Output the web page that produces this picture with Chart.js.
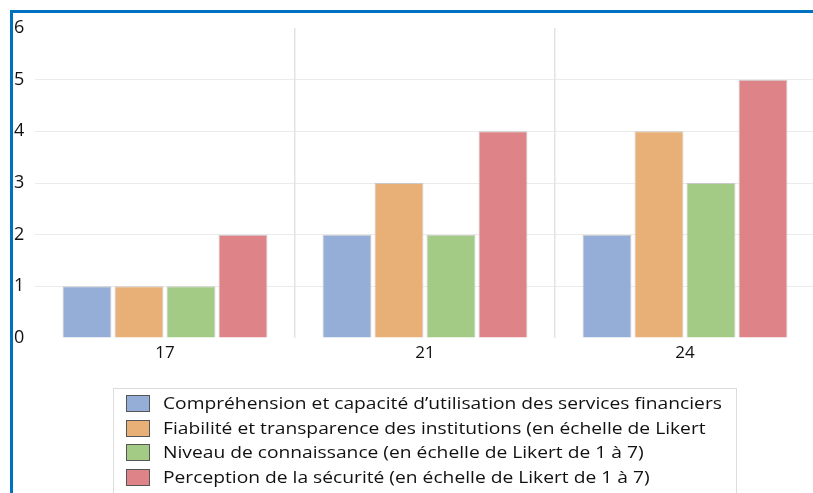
<!DOCTYPE html>
<html>
<head>
<meta charset="utf-8">
<script src="https://cdn.jsdelivr.net/npm/chart.js@4"></script>
<style>
  html, body { margin: 0; padding: 0; background: #fff; overflow: hidden; width: 813px; height: 493px; }
  #frame { position: absolute; left: 10px; top: 10px; width: 820px; height: 500px;
           border-top: 3px solid #0070C0; border-left: 3px solid #0070C0; }
  #wrap { position: absolute; left: 0; top: 0; width: 830px; height: 380px; }
  #legend { position: absolute; left: 113px; top: 388px; width: 624px; height: 120px;
            border: 1px solid #dcdcdc; box-sizing: border-box; padding-top: 2px;
            font-family: "Open Sans", sans-serif; font-size: 15.5px; color: #111; }
  .item { position: relative; height: 24.5px; line-height: 24.5px; padding-left: 49px; white-space: nowrap; }
  .txt { display: inline-block; transform: scaleX(1.24); transform-origin: left center; }
  .sw { position: absolute; left: 12px; top: 4px; width: 22px; height: 15px; border: 1px solid #555; }
</style>
</head>
<body>
<div id="wrap"><canvas id="chart" width="830" height="380"></canvas></div>
<div id="frame"></div>
<div id="legend"></div>
<script>
// categories and series
const categories = ["17", "21", "24"];
const seriesNames = [
  "Compréhension et capacité d’utilisation des services financiers",
  "Fiabilité et transparence des institutions (en échelle de Likert",
  "Niveau de connaissance (en échelle de Likert de 1 à 7)",
  "Perception de la sécurité (en échelle de Likert de 1 à 7)"
];
const comprehension = [1, 2, 2];
const fiabilite = [1, 3, 4];
const connaissance = [1, 2, 3];
const securite = [2, 4, 5];
const colors = ["#95AED7", "#E8B077", "#A3CB85", "#DE8488"];
const yTicks = [0, 1, 2, 3, 4, 5, 6];

const values = [comprehension, fiabilite, connaissance, securite];

const datasets = values.map((v, i) => ({
  label: seriesNames[i],
  data: v,
  backgroundColor: colors[i],
  borderColor: "#c9c9c9",
  borderWidth: 1,
  categoryPercentage: 0.8,
  barPercentage: 0.94
}));

new Chart(document.getElementById("chart"), {
  type: "bar",
  data: { labels: categories, datasets: datasets },
  options: {
    responsive: false,
    animation: false,
    layout: { padding: { left: 14, right: 15, top: 28, bottom: 12 } },
    scales: {
      y: {
        min: 0,
        max: 6,
        afterBuildTicks: axis => { axis.ticks = yTicks.map(v => ({ value: v })); },
        afterFit: axis => { axis.width = 21; },
        ticks: {
          color: "#111",
          crossAlign: "far",
          padding: 10,
          font: { family: "Open Sans", size: 18 }
        },
        grid: {
          color: c => (c.tick && (c.tick.value === 0 || c.tick.value === 6)) ? "rgba(0,0,0,0)" : "#ebebeb",
          drawTicks: false
        },
        border: { display: false }
      },
      x: {
        afterFit: axis => { axis.height = 30; },
        ticks: {
          color: "#111",
          padding: 5,
          font: { family: "Open Sans", size: 17 }
        },
        grid: {
          offset: true,
          color: c => c.index === 0 ? "rgba(0,0,0,0)" : "#e3e3e3",
          lineWidth: 1.5,
          drawTicks: false
        },
        border: { display: false }
      }
    },
    plugins: {
      legend: { display: false },
      tooltip: { enabled: false }
    }
  }
});

// =================== LEGEND ===================
const legend = document.getElementById("legend");
seriesNames.forEach((name, i) => {
  const row = document.createElement("div");
  row.className = "item";
  row.innerHTML = `<span class="sw" style="background:${colors[i]}"></span><span class="txt">${name}</span>`;
  legend.appendChild(row);
});
</script>
</body>
</html>
